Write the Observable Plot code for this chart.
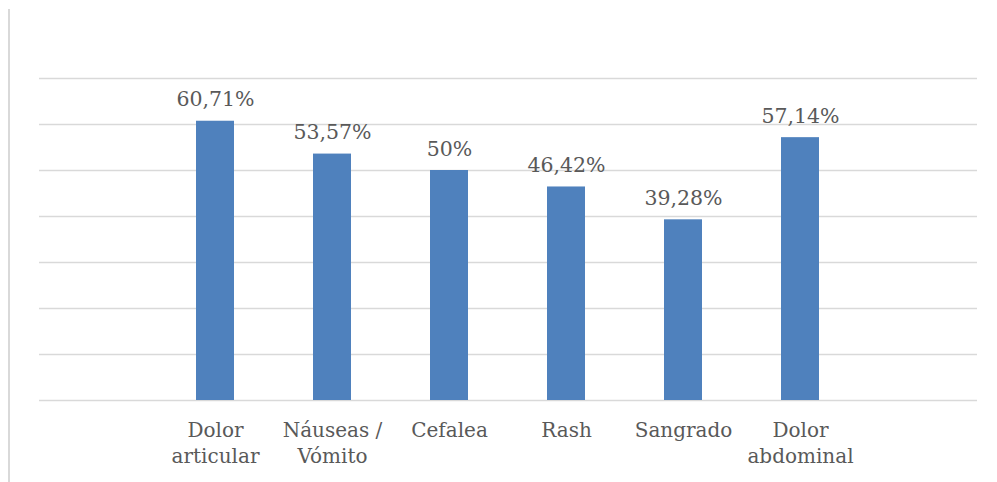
<!DOCTYPE html>
<html>
<head>
<meta charset="utf-8">
<script src="https://cdn.jsdelivr.net/npm/d3@7"></script>
<script src="https://cdn.jsdelivr.net/npm/@observablehq/plot@0.6"></script>
<style>
  html, body { margin: 0; padding: 0; background: #fff; }
  #wrap { position: relative; width: 997px; height: 482px; }
  #edge { position: absolute; left: 8px; top: 9px; width: 2px; height: 473px; background: #d9d9d9; }
  #chart { position: absolute; left: 0; top: 0; }
</style>
</head>
<body>
<div id="wrap"><div id="edge"></div><div id="chart"></div></div>
<script>
const categories = ["Dolor\narticular", "Náuseas /\nVómito", "Cefalea", "Rash", "Sangrado", "Dolor\nabdominal"];
const values = [60.71, 53.57, 50, 46.42, 39.28, 57.14];
const valueLabels = ["60,71%", "53,57%", "50%", "46,42%", "39,28%", "57,14%"];
const gridTicks = [0, 10, 20, 30, 40, 50, 60, 70];

const data = categories.map((c, i) => ({cat: c, value: values[i], label: valueLabels[i]}));

const font = "'DejaVu Serif', serif";
const chart = Plot.plot({
  width: 997,
  height: 482,
  marginTop: 78,
  marginBottom: 82,
  marginLeft: 39,
  marginRight: 20,
  style: {fontFamily: font, fontSize: "20px", color: "#595959", background: "transparent"},
  x: {domain: categories, range: [156, 860], paddingInner: 0.675, paddingOuter: 0.3375, label: null},
  y: {domain: [0, 70], label: null},
  marks: [
    Plot.ruleY(gridTicks, {stroke: "#d9d9d9", strokeWidth: 1.5}),
    Plot.barY(data, {x: "cat", y: "value", fill: "#4f81bd"}),
    Plot.text(data, {x: "cat", y: "value", text: "label", lineAnchor: "bottom", dy: -15, fill: "#595959", fontSize: 20.5}),
    Plot.axisX({tickSize: 0, tickPadding: 18, lineHeight: 1.3, fontSize: 20, fill: "#595959", label: null}),
    Plot.axisY({ticks: [], label: null})
  ]
});
document.getElementById("chart").appendChild(chart);
</script>
</body>
</html>
